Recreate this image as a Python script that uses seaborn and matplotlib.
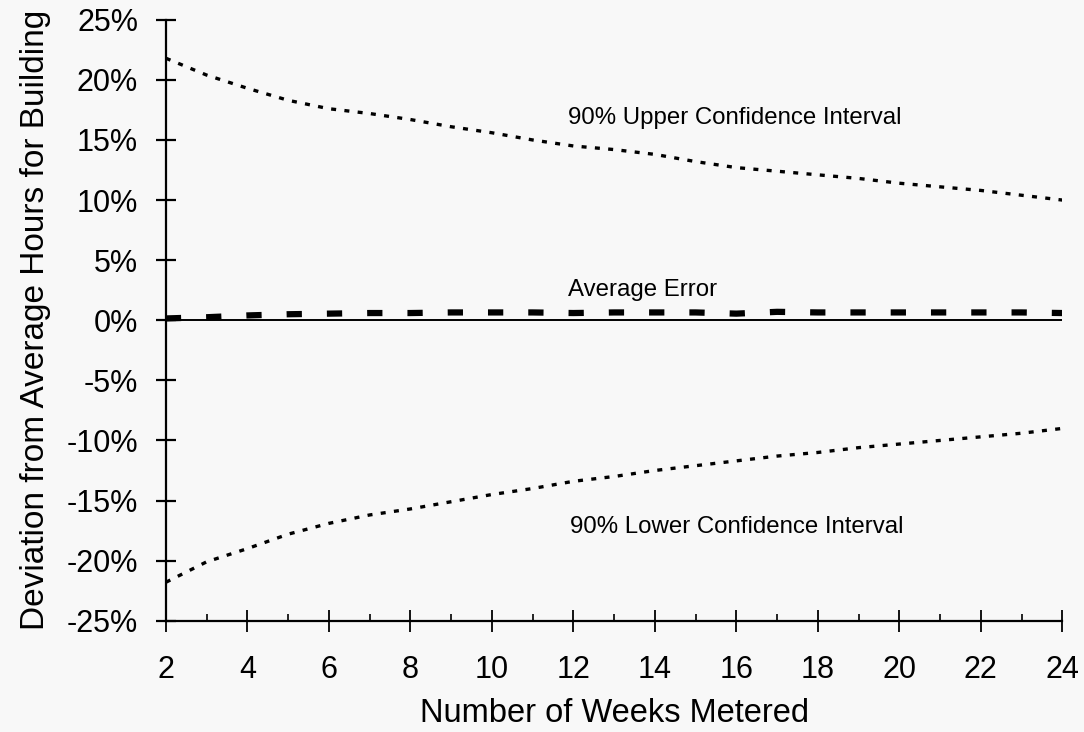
import matplotlib
matplotlib.use("Agg")
import matplotlib.pyplot as plt
import seaborn as sns
import pandas as pd
from matplotlib.ticker import MultipleLocator, FixedLocator

sns.set_theme(style="white")
plt.rcParams["font.family"] = ["Liberation Sans", "DejaVu Sans"]
plt.rcParams["lines.scale_dashes"] = False

# Weeks of metering and the deviation statistics (percent)
weeks = list(range(2, 25))
upper_ci = [21.8, 20.4, 19.3, 18.3, 17.6, 17.2, 16.7, 16.1, 15.6, 15.0, 14.5, 14.2,
            13.8, 13.2, 12.7, 12.4, 12.1, 11.8, 11.4, 11.1, 10.8, 10.4, 10.0]
lower_ci = [-21.8, -20.1, -19.0, -17.8, -16.9, -16.2, -15.7, -15.1, -14.5, -14.0, -13.4, -13.0,
            -12.5, -12.1, -11.7, -11.3, -11.0, -10.6, -10.3, -10.0, -9.7, -9.4, -9.0]
avg_error = [0.15, 0.25, 0.4, 0.5, 0.55, 0.6, 0.6, 0.65, 0.65, 0.65, 0.6, 0.65,
             0.65, 0.65, 0.55, 0.7, 0.65, 0.65, 0.65, 0.65, 0.65, 0.65, 0.6]
y_ticks = list(range(-25, 30, 5))
x_ticks = list(range(2, 25, 2))

df = pd.DataFrame({"weeks": weeks, "upper": upper_ci, "lower": lower_ci,
                   "avg": avg_error, "zero": [0.0] * len(weeks)})

bg = "#f8f8f8"
fig = plt.figure(figsize=(10.84, 7.32), dpi=100, facecolor=bg)
ax = fig.add_axes([0.153, 0.152, 0.827, 0.821])
ax.set_facecolor(bg)

sns.lineplot(data=df, x="weeks", y="zero", ax=ax, color="black", linewidth=1.4)
sns.lineplot(data=df, x="weeks", y="upper", ax=ax, color="black", linewidth=2.4,
             linestyle=(0, (3.6, 6.0)))
sns.lineplot(data=df, x="weeks", y="lower", ax=ax, color="black", linewidth=2.4,
             linestyle=(0, (3.6, 6.0)))
sns.lineplot(data=df, x="weeks", y="avg", ax=ax, color="black", linewidth=4.5,
             linestyle=(0, (11, 18)))

ax.set_xlim(2, 24)
ax.set_ylim(-25, 25)
ax.xaxis.set_major_locator(FixedLocator(x_ticks))
ax.xaxis.set_minor_locator(MultipleLocator(1))
ax.yaxis.set_major_locator(FixedLocator(y_ticks))
ax.set_yticklabels([f"{v}%" for v in y_ticks])
ax.set_xticklabels([str(v) for v in x_ticks])

for side in ("top", "right"):
    ax.spines[side].set_visible(False)
for side in ("left", "bottom"):
    ax.spines[side].set_linewidth(1.6)
    ax.spines[side].set_color("black")

ax.tick_params(axis="y", which="major", direction="inout", length=15, width=1.6,
               labelsize=22, pad=12.5, left=True, colors="black")
ax.tick_params(axis="x", which="major", direction="inout", length=16, width=1.3,
               labelsize=22, pad=17, bottom=True, colors="black")
ax.tick_params(axis="x", which="minor", direction="in", length=5, width=1.2,
               bottom=True, colors="black")

ax.set_xlabel("Number of Weeks Metered", fontsize=23.5, labelpad=9, color="black")
ax.set_ylabel("Deviation from Average Hours for Building", fontsize=24,
              labelpad=11, color="black")

ax.text(15.95, 16.8, "90% Upper Confidence Interval", fontsize=17.3, ha="center",
        va="center", color="black")
ax.text(13.69, 2.55, "Average Error", fontsize=17.3, ha="center", va="center",
        color="black")
ax.text(16.0, -17.2, "90% Lower Confidence Interval", fontsize=17.3, ha="center",
        va="center", color="black")

fig.savefig("out.png", dpi=100, facecolor=bg)
